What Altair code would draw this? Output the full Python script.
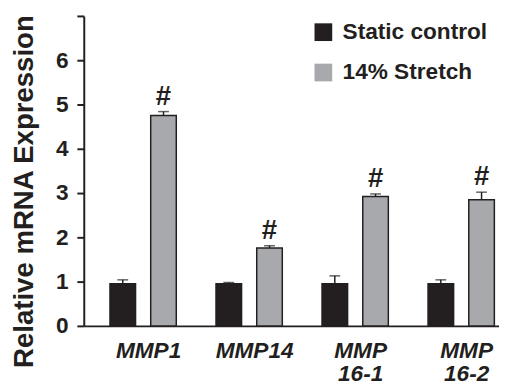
import altair as alt
import pandas as pd

genes = ["MMP1", "MMP14", "MMP 16-1", "MMP 16-2"]
groups = ["Static control", "14% Stretch"]
control = [0.95, 0.95, 0.95, 0.95]
control_err = [0.09, 0.03, 0.18, 0.09]
stretch = [4.75, 1.76, 2.92, 2.85]
stretch_err = [0.09, 0.05, 0.06, 0.17]
marks = ["", "#"]

rows = []
for i, g in enumerate(genes):
    rows.append({"gene": g, "group": groups[0], "value": control[i],
                 "top": control[i] + control_err[i], "mark": marks[0]})
    rows.append({"gene": g, "group": groups[1], "value": stretch[i],
                 "top": stretch[i] + stretch_err[i], "mark": marks[1]})
df = pd.DataFrame(rows)

DARK = "#231f20"
GRAY = "#a7a9ac"
FONT = "Liberation Sans"

x = alt.X("gene:N", sort=genes,
          scale=alt.Scale(paddingInner=0, paddingOuter=0, range=[0, 431]),
          axis=alt.Axis(title=None, labelAngle=0, ticks=False, labelPadding=14,
                        labelFontSize=23, labelFontWeight="bold", labelFontStyle="italic",
                        labelFont=FONT, labelColor=DARK, labelLineHeight=24,
                        labelExpr="split(datum.label, ' ')", labelOffset=12,
                        domainColor=DARK, domainWidth=2))
xo = alt.XOffset("group:N", sort=groups,
                 scale=alt.Scale(paddingInner=0.372, paddingOuter=0.4875, align=0.66))

color = alt.Color("group:N", sort=groups,
                  scale=alt.Scale(domain=groups, range=[DARK, GRAY]),
                  legend=alt.Legend(title=None, orient="none", legendX=232, legendY=5,
                                    symbolType="square", symbolSize=324, symbolStrokeWidth=0,
                                    symbolOpacity=1,
                                    labelFontSize=23, labelFont=FONT, labelFontWeight="bold",
                                    labelColor=DARK, labelOffset=8, rowPadding=17,
                                    labelLimit=300))

ysc = alt.Scale(domain=[0, 7], nice=False)
y = alt.Y("value:Q", scale=ysc,
          axis=alt.Axis(title="Relative mRNA Expression", values=[0, 1, 2, 3, 4, 5, 6, 7],
                        labelExpr="datum.value == 7 ? '' : datum.label",
                        grid=False, tickSize=7, tickWidth=2, tickColor=DARK,
                        labelPadding=9, labelFontSize=23, labelFontWeight="bold",
                        labelFont=FONT, labelColor=DARK,
                        domainColor=DARK, domainWidth=2,
                        titleFontSize=28, titleFont=FONT, titleFontWeight="bold",
                        titleColor=DARK, titleAngle=-90, titleX=-52, titleY=178,
                        titleAlign="center", titleBaseline="alphabetic"))

base = alt.Chart(df)

stems = base.mark_rule(color=DARK, strokeWidth=1.5).encode(
    x=x, xOffset=xo, y=alt.Y("value:Q", scale=ysc), y2="top:Q")
caps = base.mark_tick(color=DARK, thickness=1.5, size=11, orient="horizontal").encode(
    x=x, xOffset=xo, y=alt.Y("top:Q", scale=ysc))
bars = base.mark_bar(stroke=DARK, strokeWidth=1.5).encode(
    x=x, xOffset=xo, y=y, color=color)
labels = base.mark_text(font=FONT, fontSize=28, fontWeight="bold", color=DARK,
                        baseline="alphabetic", dy=-7).encode(
    x=x, xOffset=xo, y=alt.Y("top:Q", scale=ysc), text="mark:N")

chart = alt.layer(stems, caps, bars, labels).properties(
    width=422, height=315,
    autosize=alt.AutoSizeParams(type="none"),
    padding={"left": 77, "top": 5, "right": 0, "bottom": 57},
).configure_view(stroke=None)

chart.save("out.html", embed_options={"renderer": "svg", "actions": False})
